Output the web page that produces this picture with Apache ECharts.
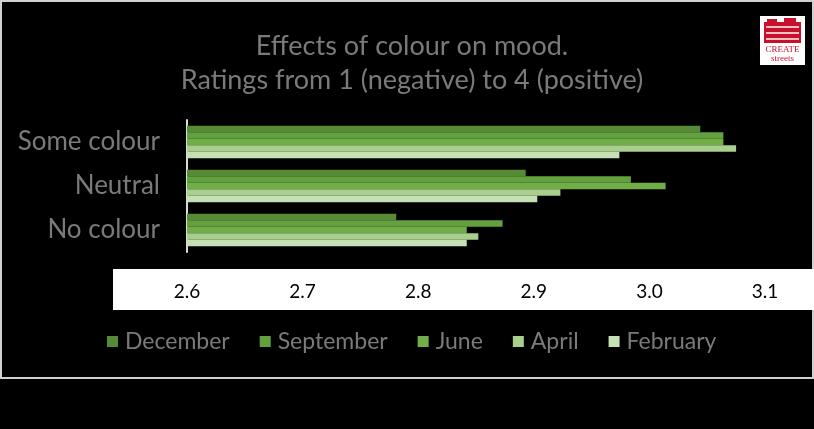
<!DOCTYPE html>
<html>
<head>
<meta charset="utf-8">
<script src="https://cdn.jsdelivr.net/npm/echarts@6/dist/echarts.min.js"></script>
<style>
html,body{margin:0;padding:0;background:#000;}
#c{width:814px;height:429px;}
</style>
</head>
<body>
<div id="c"></div>
<script>
var categories = ['Some colour', 'Neutral', 'No colour'];
var seriesNames = ['December', 'September', 'June', 'April', 'February'];
var december  = [3.044, 2.893, 2.781];
var september = [3.064, 2.984, 2.873];
var june      = [3.064, 3.014, 2.842];
var april     = [3.075, 2.923, 2.852];
var february  = [2.974, 2.903, 2.842];
var xTicks = [2.6, 2.7, 2.8, 2.9, 3.0, 3.1];
var colors = ['#578a36', '#63a03e', '#71ae48', '#a8cf8d', '#c6e0b5'];

var values = [december, september, june, april, february];
var chart = echarts.init(document.getElementById('c'));
var FONT = 'Lato, "DejaVu Sans", sans-serif';

var option = {
  backgroundColor: '#000',
  animation: false,
  title: {
    text: 'Effects of colour on mood.\nRatings from 1 (negative) to 4 (positive)',
    left: 407, top: 24, textAlign: 'center',
    textStyle: { color: '#7a7a7a', fontSize: 27, fontWeight: 'normal', fontFamily: FONT, lineHeight: 34 }
  },
  legend: {
    data: seriesNames,
    left: 102, top: 325,
    itemWidth: 11, itemHeight: 11, itemGap: 30,
    icon: 'rect',
    textStyle: { color: '#7a7a7a', fontSize: 23, fontFamily: FONT, padding: [0, 0, 0, 2] }
  },
  grid: { left: 187, right: 49, top: 120, height: 132 },
  xAxis: {
    type: 'value', min: 2.6, max: 3.1, interval: 0.1,
    axisLine: { show: false }, axisTick: { show: false }, splitLine: { show: false },
    axisLabel: {
      color: '#000', fontSize: 19, fontFamily: FONT, margin: 30,
      formatter: function (v) { var t = xTicks.find(function (x) { return Math.abs(x - v) < 1e-6; }); return t === undefined ? '' : t.toFixed(1); }
    }
  },
  yAxis: {
    type: 'category', data: categories, inverse: true,
    axisLine: { show: true, lineStyle: { color: '#d9d9d9', width: 2 } },
    axisTick: { show: false },
    axisLabel: { color: '#7a7a7a', fontSize: 26, fontFamily: FONT, margin: 27 }
  },
  series: seriesNames.map(function (n, i) {
    return {
      name: n, type: 'bar', data: values[i],
      barGap: '0%', barCategoryGap: '26%',
      itemStyle: { color: colors[i] },
      z: 3
    };
  }),
  graphic: [
    { type: 'rect', shape: { x: 1, y: 1, width: 812, height: 377 }, style: { fill: null, stroke: '#d0d0d0', lineWidth: 2 }, z: 0 },
    { type: 'rect', shape: { x: 113, y: 269, width: 701, height: 41 }, style: { fill: '#ffffff' }, z: 0, zlevel: 0 },
    { type: 'group', left: 760, top: 16, children: [
      { type: 'rect', shape: { x: 0, y: 0, width: 45, height: 49 }, style: { fill: '#ffffff' } },
      { type: 'rect', shape: { x: 4, y: 6, width: 37, height: 21 }, style: { fill: '#c8102e' } },
      { type: 'rect', shape: { x: 7, y: 3, width: 10, height: 4 }, style: { fill: '#c8102e' } },
      { type: 'rect', shape: { x: 24, y: 2, width: 12, height: 5 }, style: { fill: '#c8102e' } },
      { type: 'rect', shape: { x: 6, y: 10, width: 33, height: 2 }, style: { fill: '#f3c0c0' } },
      { type: 'rect', shape: { x: 6, y: 16, width: 33, height: 2 }, style: { fill: '#f3c0c0' } },
      { type: 'rect', shape: { x: 6, y: 22, width: 33, height: 2 }, style: { fill: '#f3c0c0' } },
      { type: 'text', style: { x: 22.5, y: 29, text: 'CREATE', fill: '#c8102e', font: '9px "Liberation Serif", serif', align: 'center' } },
      { type: 'text', style: { x: 22.5, y: 38, text: 'streets', fill: '#c8102e', font: '9px "Liberation Serif", serif', align: 'center' } }
    ] }
  ]
};
chart.setOption(option);
</script>
</body>
</html>
